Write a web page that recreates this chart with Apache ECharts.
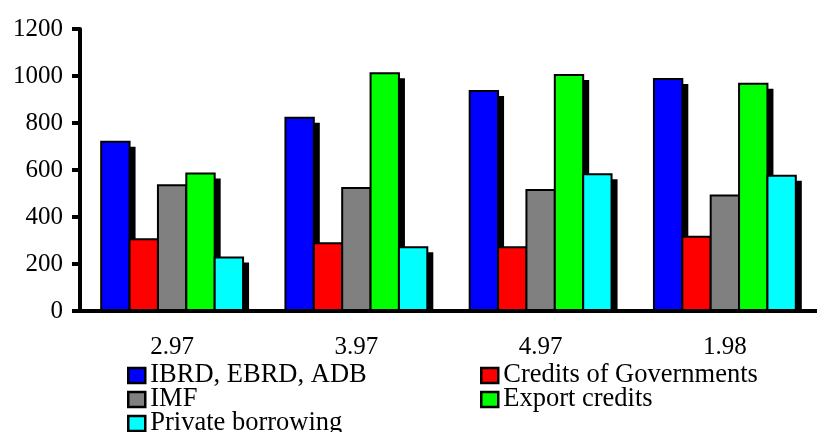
<!DOCTYPE html>
<html>
<head>
<meta charset="utf-8">
<script src="https://cdn.jsdelivr.net/npm/echarts@6/dist/echarts.min.js"></script>
<style>
  html, body { margin: 0; padding: 0; background: #fff; }
  #chart { width: 817px; height: 432px; }
</style>
</head>
<body>
<div id="chart"></div>
<script>
const categories = ['2.97', '3.97', '4.97', '1.98'];
const seriesNames = ['IBRD, EBRD, ADB', 'Credits of Governments', 'IMF', 'Export credits', 'Private borrowing'];
const ibrd = [720, 822, 936, 987];
const governments = [305, 288, 271, 316];
const imf = [535, 523, 515, 492];
const exportCredits = [585, 1012, 1004, 967];
const privateBorrowing = [228, 271, 582, 576];
const yTicks = [0, 200, 400, 600, 800, 1000, 1200];

const seriesValues = [ibrd, governments, imf, exportCredits, privateBorrowing];
const colors = ['#0000ff', '#ff0000', '#808080', '#00ff00', '#00ffff'];
const FONT = '"Liberation Serif", "DejaVu Serif", serif';
const BAR_RATIO = 0.154;   // share of a category band taken by one bar
const SHADOW_DX = 6, SHADOW_DY = 5;

// Each bar is drawn with a hard black drop shadow that stops at the baseline.
function makeRenderer(idx, count) {
  return function (params, api) {
    const cat = api.value(0);
    const val = api.value(1);
    const band = api.size([1, 0])[0];
    const bw = band * BAR_RATIO;
    const top = api.coord([cat, val]);
    const base = api.coord([cat, 0]);
    const x = top[0] - bw * count / 2 + idx * bw;
    const h = base[1] - top[1];
    return {
      type: 'group',
      children: [
        {
          type: 'rect',
          shape: { x: x + SHADOW_DX, y: top[1] + SHADOW_DY, width: bw, height: Math.max(0, h - SHADOW_DY) },
          style: { fill: '#000' }
        },
        {
          type: 'rect',
          shape: { x: x, y: top[1], width: bw, height: h },
          style: { fill: colors[idx], stroke: '#000', lineWidth: 2 }
        }
      ]
    };
  };
}

const series = seriesNames.map((name, i) => ({
  name: name,
  type: 'custom',
  renderItem: makeRenderer(i, seriesNames.length),
  encode: { x: 0, y: 1 },
  itemStyle: { color: colors[i] },
  data: seriesValues[i].map((v, c) => [c, v])
}));

const legendText = { fontFamily: FONT, fontSize: 26.5, color: '#000', lineHeight: 22 };
const legendCommon = {
  orient: 'vertical',
  top: 362,
  height: 100,
  padding: 0,
  itemGap: -3,
  itemWidth: 17,
  itemHeight: 15,
  icon: 'rect',
  itemStyle: { borderColor: '#000', borderWidth: 2.5 },
  textStyle: legendText,
  selectedMode: false
};

const chart = echarts.init(document.getElementById('chart'), null, { renderer: 'canvas' });
chart.setOption({
  animation: false,
  backgroundColor: '#fff',
  grid: { left: 80, right: -10, top: 29, bottom: 121 },
  xAxis: {
    type: 'category',
    data: categories,
    z: 5,
    axisLine: { lineStyle: { color: '#000', width: 4 } },
    axisTick: { length: 7, lineStyle: { color: '#000', width: 4 } },
    axisLabel: { margin: 24, fontFamily: FONT, fontSize: 25, color: '#000' }
  },
  yAxis: {
    type: 'value',
    min: yTicks[0],
    max: yTicks[yTicks.length - 1],
    interval: yTicks[1] - yTicks[0],
    z: 5,
    axisLine: { show: true, lineStyle: { color: '#000', width: 4 } },
    axisTick: { show: true, length: 8, lineStyle: { color: '#000', width: 4 } },
    splitLine: { show: false },
    axisLabel: { margin: 17, fontFamily: FONT, fontSize: 25, color: '#000', formatter: v => String(v) }
  },
  legend: [
    Object.assign({ left: 127, data: [seriesNames[0], seriesNames[2], seriesNames[4]] }, legendCommon),
    Object.assign({ left: 480, data: [seriesNames[1], seriesNames[3]] }, legendCommon)
  ],
  series: series
});
</script>
</body>
</html>
